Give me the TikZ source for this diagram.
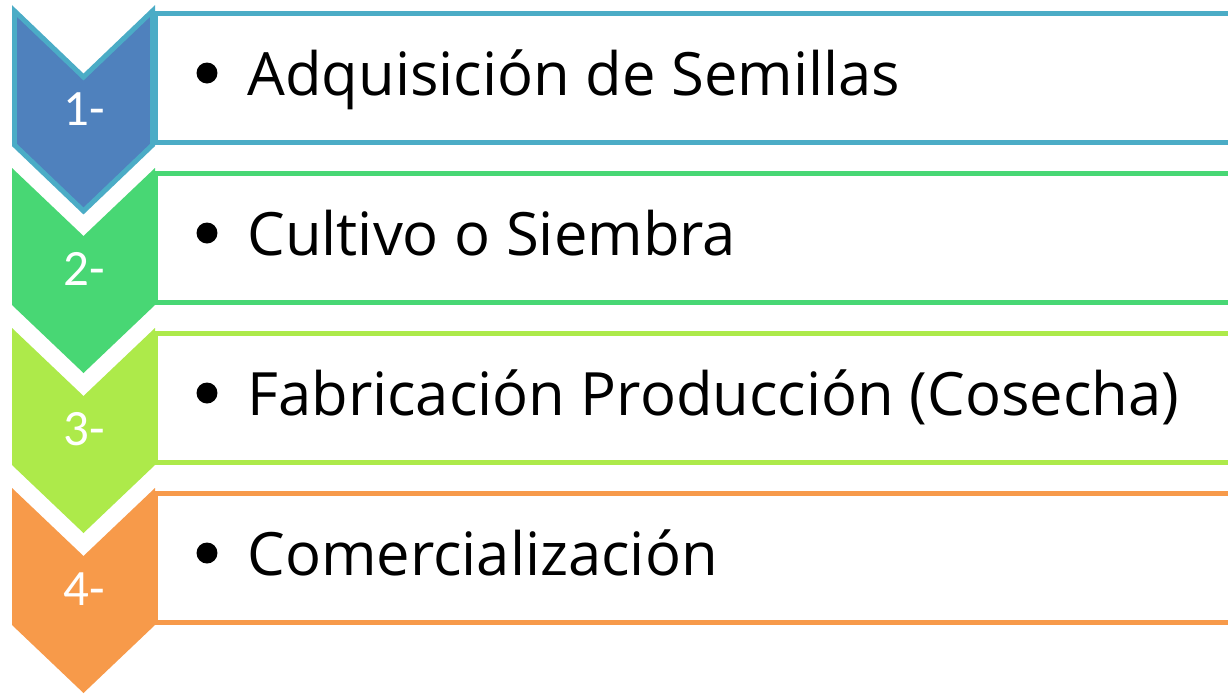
\documentclass[tikz,border=0pt]{standalone}
\usepackage{fontspec}
\setmainfont{Open Sans}
\newfontfamily\numfont{Carlito}
\definecolor{tealline}{HTML}{4BACC6}
\definecolor{stepblue}{HTML}{4F81BD}
\definecolor{stepgreen}{HTML}{48D774}
\definecolor{steplime}{HTML}{ADEA4A}
\definecolor{steporange}{HTML}{F79A4A}

\begin{document}
\begin{tikzpicture}[
     x=0.02cm,y=-0.02cm,
     stepbox/.style={line width=0.1cm,fill=white},
     stepnum/.style={anchor=base,inner sep=0pt,text=white,font=\numfont\fontsize{29}{32}\selectfont},
     steptext/.style={anchor=base west,inner sep=0pt,font=\fontsize{34}{38}\selectfont},
     dot/.style={circle,fill=black,inner sep=0pt,minimum size=0.42cm}
   ]
   \clip (0,0) rectangle (1228,694);
   \fill[white] (0,0) rectangle (1228,694);
   % Boxes.
   \draw[stepbox,draw=tealline] (155,13) rectangle (1240,142);
   \draw[stepbox,draw=stepgreen] (155,173) rectangle (1240,302);
   \draw[stepbox,draw=steplime] (155,333) rectangle (1240,462);
   \draw[stepbox,draw=steporange] (155,493) rectangle (1240,622);
   % Chevrons.
   \draw[fill=stepblue,draw=tealline,line width=0.1cm] (14.5,11) -- ++(69,66) -- ++(69,-66) -- ++(0,134) -- ++(-69,66) -- ++(-69,-66) -- cycle;
   \fill[stepgreen] (12,168) -- ++(71.5,68) -- ++(71.5,-68) -- ++(0,137) -- ++(-71.5,68) -- ++(-71.5,-68) -- cycle;
   \fill[steplime] (12,328) -- ++(71.5,68) -- ++(71.5,-68) -- ++(0,137) -- ++(-71.5,68) -- ++(-71.5,-68) -- cycle;
   \fill[steporange] (12,488) -- ++(71.5,68) -- ++(71.5,-68) -- ++(0,137) -- ++(-71.5,68) -- ++(-71.5,-68) -- cycle;
   % Numbers.
   \node[stepnum] (n1) at (84,125) {1-};
   \node[stepnum] (n2) at (84,285) {2-};
   \node[stepnum] (n3) at (84,445) {3-};
   \node[stepnum] (n4) at (84,605) {4-};
   % Bullets and texts.
   \node[dot] (b1) at (207,73) {};
   \node[steptext] (t1) at (247,95) {Adquisición de Semillas};
   \node[dot] (b2) at (207,233) {};
   \node[steptext] (t2) at (247,255) {Cultivo o Siembra};
   \node[dot] (b3) at (207,393) {};
   \node[steptext] (t3) at (247,415) {Fabricación Producción (Cosecha)};
   \node[dot] (b4) at (207,553) {};
   \node[steptext] (t4) at (247,575) {Comercialización};
 \end{tikzpicture}
\end{document}
